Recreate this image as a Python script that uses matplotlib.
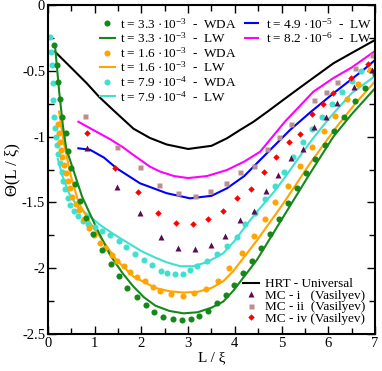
import numpy as np
import matplotlib
matplotlib.use('Agg')
import matplotlib.pyplot as plt
from matplotlib.lines import Line2D
from matplotlib.ticker import MultipleLocator

plt.rcParams['font.family'] = ['Liberation Serif', 'DejaVu Serif']
plt.rcParams['mathtext.fontset'] = 'custom'
plt.rcParams['mathtext.rm'] = 'Liberation Serif'
plt.rcParams['mathtext.it'] = 'Liberation Serif:italic'

# WDA points (dots)
g_x = [0.135, 0.19, 0.22, 0.26, 0.31, 0.38, 0.435, 0.49, 0.578, 0.685, 0.81, 0.97, 1.163, 1.35,
       1.53, 1.70, 1.90, 2.09, 2.27, 2.47, 2.67, 2.87, 3.06, 3.24, 3.43, 3.61, 3.80, 3.99, 4.18,
       4.37, 4.56, 4.75, 4.95, 5.14, 5.33, 5.52, 5.72, 5.92, 6.13, 6.34, 6.57, 6.79, 7.0]
g_y = [-0.304, -0.456, -0.583, -0.717, -0.85, -0.975, -1.11, -1.236, -1.363, -1.49, -1.616, -1.743,
       -1.862, -1.968, -2.059, -2.148, -2.216, -2.282, -2.33, -2.368, -2.389, -2.396, -2.389, -2.363,
       -2.323, -2.267, -2.204, -2.13, -2.039, -1.948, -1.849, -1.738, -1.624, -1.502, -1.388, -1.279,
       -1.173, -1.064, -0.955, -0.849, -0.732, -0.631, -0.524]

o_x = [0.22, 0.24, 0.26, 0.28, 0.31, 0.34, 0.38, 0.43, 0.47, 0.52, 0.59, 0.66, 0.76, 0.88, 0.99,
       1.11, 1.23, 1.36, 1.48, 1.63, 1.76, 1.90, 2.08, 2.25, 2.40, 2.63, 2.88, 3.13, 3.38, 3.63,
       3.88, 4.15, 4.40, 4.65, 4.86, 5.13, 5.40, 5.65, 5.90, 6.15, 6.40, 6.64, 6.90]
o_y = [-0.904, -0.97, -1.039, -1.10, -1.157, -1.216, -1.274, -1.335, -1.393, -1.457, -1.512, -1.558,
       -1.626, -1.697, -1.748, -1.806, -1.85, -1.90, -1.945, -1.983, -2.026, -2.064, -2.10, -2.14,
       -2.173, -2.196, -2.209, -2.191, -2.155, -2.095, -2.0, -1.882, -1.755, -1.629, -1.494, -1.373,
       -1.223, -1.081, -0.96, -0.843, -0.717, -0.603, -0.494]

c_x = [0.04, 0.06, 0.08, 0.10, 0.11, 0.13, 0.16, 0.18, 0.20, 0.22, 0.26, 0.29, 0.33, 0.37, 0.42,
       0.48, 0.55, 0.64, 0.74, 0.86, 1.00, 1.16, 1.33, 1.51, 1.68, 1.86, 2.06, 2.23, 2.41, 2.55,
       2.72, 2.88, 3.03, 3.20, 3.40, 3.61, 3.83, 4.04, 4.22, 4.43, 4.65, 4.86, 5.05, 5.25, 5.45,
       5.66, 5.86, 6.07, 6.29, 6.50, 6.70]
c_y = [-0.245, -0.355, -0.456, -0.595, -0.722, -0.849, -0.937, -1.0, -1.064, -1.13, -1.20, -1.267,
       -1.335, -1.40, -1.464, -1.52, -1.565, -1.605, -1.64, -1.665, -1.69, -1.72, -1.745, -1.79,
       -1.84, -1.894, -1.94, -1.976, -2.019, -2.039, -2.044, -2.042, -2.014, -1.98, -1.943, -1.892,
       -1.831, -1.76, -1.667, -1.583, -1.474, -1.375, -1.271, -1.153, -1.043, -0.945, -0.849,
       -0.752, -0.661, -0.578, -0.499]

# LW curves
gl_x = [0.15, 0.24, 0.32, 0.39, 0.52, 0.73, 0.91, 1.06, 1.33, 1.6, 1.83, 2.05, 2.3, 2.6, 2.9, 3.2,
        3.5, 3.75, 3.97, 4.47, 5.04, 5.61, 6.11, 6.5, 7.0]
gl_y = [-0.31, -0.66, -0.92, -1.09, -1.23, -1.457, -1.596, -1.71, -1.90, -2.04, -2.14, -2.22, -2.285,
        -2.325, -2.343, -2.335, -2.30, -2.254, -2.17, -1.938, -1.608, -1.279, -1.0, -0.83, -0.633]

ol_x = [0.236, 0.34, 0.49, 0.66, 0.91, 1.13, 1.47, 1.83, 2.3, 2.6, 2.9, 3.2, 3.5, 3.75, 3.97, 4.47,
        5.04, 5.61, 6.18, 6.6, 7.0]
ol_y = [-0.81, -1.05, -1.30, -1.507, -1.66, -1.77, -1.94, -2.064, -2.15, -2.175, -2.185, -2.18, -2.15,
        -2.10, -2.02, -1.79, -1.507, -1.203, -0.925, -0.74, -0.58]

cl_x = [0.21, 0.31, 0.45, 0.63, 0.91, 1.11, 1.4, 1.61, 2.0, 2.3, 2.54, 2.83, 3.1, 3.4, 3.75, 4.0,
        4.25, 4.5, 4.86, 5.05, 5.27, 5.45, 5.66, 5.86, 6.07, 6.5, 7.0]
cl_y = [-1.17, -1.30, -1.43, -1.53, -1.61, -1.67, -1.74, -1.786, -1.87, -1.92, -1.955, -1.985, -1.985,
        -1.955, -1.887, -1.79, -1.67, -1.56, -1.41, -1.32, -1.21, -1.12, -1.02, -0.93, -0.84, -0.67,
        -0.54]

bl_x = [0.65, 0.9, 1.2, 1.47, 1.97, 2.54, 3.04, 3.5, 3.83, 4.2, 4.54, 5.18, 5.6, 6.11, 6.75, 7.0]
bl_y = [-1.089, -1.10, -1.16, -1.241, -1.355, -1.43, -1.469, -1.45, -1.393, -1.30, -1.178, -0.95,
        -0.82, -0.671, -0.494, -0.418]

ml_x = [0.65, 0.97, 1.33, 1.6, 1.83, 2.18, 2.4, 2.7, 3.0, 3.4, 3.83, 4.2, 4.54, 5.07, 5.68, 6.11,
        6.5, 7.0]
ml_y = [-0.887, -0.95, -1.02, -1.08, -1.14, -1.228, -1.266, -1.30, -1.315, -1.30, -1.254, -1.19,
        -1.115, -0.887, -0.659, -0.555, -0.475, -0.35]

hrt_x = [0.15, 0.5, 0.83, 1.1, 1.4, 1.83, 2.18, 2.54, 3.0, 3.5, 3.83, 4.11, 4.4, 4.7, 5.04, 5.5,
         6.11, 6.5, 7.0]
hrt_y = [-0.355, -0.478, -0.595, -0.70, -0.80, -0.94, -1.01, -1.06, -1.094, -1.07, -1.013, -0.95,
         -0.887, -0.81, -0.72, -0.60, -0.443, -0.365, -0.266]

# MC (Vasilyev)
tri_x = [0.84, 1.47, 1.97, 2.41, 2.79, 3.15, 3.48, 3.78, 4.10, 4.40, 4.67, 4.93, 5.21, 5.46, 5.70,
         5.95, 6.18, 6.55, 6.93]
tri_y = [-1.089, -1.38, -1.583, -1.765, -1.844, -1.856, -1.82, -1.755, -1.634, -1.563, -1.411,
         -1.292, -1.162, -1.098, -0.925, -0.849, -0.742, -0.62, -0.494]
sq_x = [0.80, 1.48, 1.96, 2.38, 2.79, 3.15, 3.47, 3.81, 4.10, 4.40, 4.68, 4.94, 5.21, 5.70, 5.95,
        6.18, 6.57, 6.93]
sq_y = [-0.845, -1.077, -1.234, -1.368, -1.431, -1.449, -1.413, -1.355, -1.271, -1.221, -1.098,
        -1.005, -0.902, -0.72, -0.659, -0.583, -0.481, -0.38]
red_x = [0.84, 1.43, 1.93, 2.36, 2.75, 3.10, 3.43, 3.75, 4.05, 4.35, 4.63, 4.88, 5.16, 5.39, 5.65,
         5.88, 6.11, 6.49, 6.86]
red_y = [-0.970, -1.241, -1.418, -1.578, -1.654, -1.667, -1.626, -1.563, -1.464, -1.40, -1.267,
         -1.157, -1.042, -0.98, -0.828, -0.755, -0.671, -0.557, -0.448]

x_ticks = [0, 1, 2, 3, 4, 5, 6, 7]
y_ticks = [0, -0.5, -1, -1.5, -2, -2.5]
y_tick_labels = ['0', '-0.5', '-1', '-1.5', '-2', '-2.5']

GREEN = '#16881a'
ORANGE = '#ffa500'
CYAN = '#40e0d0'
BLUE = '#0000ff'
MAG = '#ff00ff'
PURP = '#5e0a4e'
ROSY = '#bc8f8f'
RED = '#ff0000'

fig = plt.figure(figsize=(3.82, 3.71), dpi=100)
ax = fig.add_axes([48/382, 1-334/371, 327/382, 329/371])

lw = 1.5
ms = 4.4
ax.plot(hrt_x, hrt_y, color='black', lw=lw)
ax.plot(ml_x, ml_y, color=MAG, lw=lw)
ax.plot(bl_x, bl_y, color=BLUE, lw=lw)
ax.plot(cl_x, cl_y, color=CYAN, lw=lw)
ax.plot(ol_x, ol_y, color=ORANGE, lw=lw)
ax.plot(gl_x, gl_y, color=GREEN, lw=lw)
ax.plot(c_x, c_y, 'o', color=CYAN, ms=ms, mec='none')
ax.plot(o_x, o_y, 'o', color=ORANGE, ms=ms, mec='none')
ax.plot(g_x, g_y, 'o', color=GREEN, ms=ms, mec='none')
ax.plot(tri_x, tri_y, '^', color=PURP, ms=4.2, mec='none')
ax.plot(sq_x, sq_y, 's', color=ROSY, ms=3.6, mec='none')
ax.plot(red_x, red_y, 'D', color=RED, ms=3.3, mec='none')

ax.set_xlim(0, 7)
ax.set_ylim(-2.5, 0)
ax.set_xticks(x_ticks)
ax.set_xticklabels([str(v) for v in x_ticks])
ax.set_yticks(y_ticks)
ax.set_yticklabels(y_tick_labels)
ax.xaxis.set_minor_locator(MultipleLocator(0.5))
ax.yaxis.set_minor_locator(MultipleLocator(0.25))
ax.tick_params(which='both', direction='in', top=True, right=True, labelsize=10.5, width=1)
ax.tick_params(which='major', length=6, pad=2)
ax.tick_params(which='minor', length=4)
for s in ax.spines.values():
    s.set_linewidth(1.5)

ax.set_xlabel('L / ξ', fontsize=11, labelpad=1)
ax.set_ylabel('Θ(L / ξ)', fontsize=12, labelpad=1)

fs = 9.5
h1 = [Line2D([], [], ls='none', marker='o', color=GREEN, ms=ms, mec='none'),
      Line2D([], [], color=GREEN, lw=lw),
      Line2D([], [], ls='none', marker='o', color=ORANGE, ms=ms, mec='none'),
      Line2D([], [], color=ORANGE, lw=lw),
      Line2D([], [], ls='none', marker='o', color=CYAN, ms=ms, mec='none'),
      Line2D([], [], color=CYAN, lw=lw)]
l1 = ['t = 3.3 ·10$^{-3}$  -  WDA', 't = 3.3 ·10$^{-3}$  -  LW',
      't = 1.6 ·10$^{-3}$  -  WDA', 't = 1.6 ·10$^{-3}$  -  LW',
      't = 7.9 ·10$^{-4}$  -  WDA', 't = 7.9 ·10$^{-4}$  -  LW']
leg1 = ax.legend(h1, l1, loc='upper left', bbox_to_anchor=(0.159, 0.965), frameon=False,
                 fontsize=fs, borderpad=0, borderaxespad=0, handlelength=1.1, handletextpad=0.4,
                 labelspacing=0.0, numpoints=1)
ax.add_artist(leg1)

h2 = [Line2D([], [], color=BLUE, lw=lw), Line2D([], [], color=MAG, lw=lw)]
l2 = ['t = 4.9 ·10$^{-5}$  -  LW', 't = 8.2 ·10$^{-6}$  -  LW']
leg2 = ax.legend(h2, l2, loc='upper left', bbox_to_anchor=(0.602, 0.965), frameon=False,
                 fontsize=fs, borderpad=0, borderaxespad=0, handlelength=1.0, handletextpad=0.6,
                 labelspacing=0.0, numpoints=1)
ax.add_artist(leg2)

h3 = [Line2D([], [], color='black', lw=lw),
      Line2D([], [], ls='none', marker='^', color=PURP, ms=4.2, mec='none'),
      Line2D([], [], ls='none', marker='s', color=ROSY, ms=3.6, mec='none'),
      Line2D([], [], ls='none', marker='D', color=RED, ms=3.3, mec='none')]
l3 = ['HRT - Universal', 'MC - i   (Vasilyev)', 'MC - ii  (Vasilyev)', 'MC - iv (Vasilyev)']
ax.legend(h3, l3, loc='upper left', bbox_to_anchor=(0.596, 0.17), frameon=False,
          fontsize=fs, borderpad=0, borderaxespad=0, handlelength=1.2, handletextpad=0.5,
          labelspacing=-0.05, numpoints=1)

fig.savefig('out.png', dpi=100)
